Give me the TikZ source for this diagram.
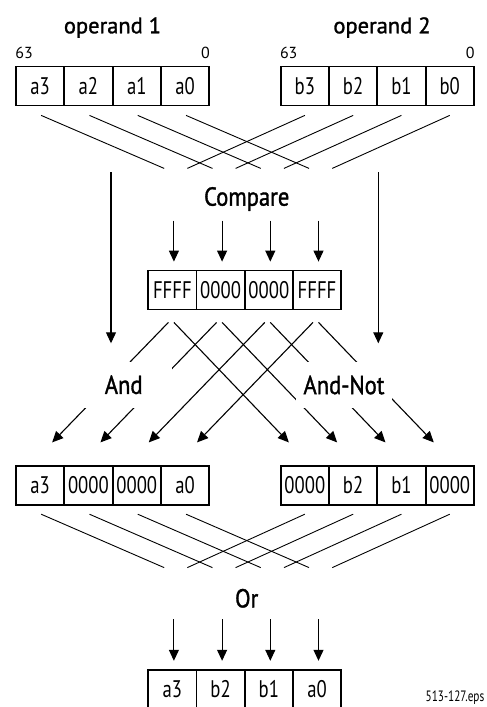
\documentclass[tikz,border=0pt]{standalone}
\usepackage{fontspec}
\setmainfont{PT Sans}
\newfontfamily\cellfont{PT Sans}[FakeStretch=0.78]
\newfontfamily\gatefont{PT Sans}[FakeStretch=0.87, FakeBold=1.3]
\newfontfamily\opfont{PT Sans}[FakeBold=1.3]
\newfontfamily\epsfont{PT Sans}[FakeStretch=0.75]
\usetikzlibrary{arrows.meta,positioning}

\begin{document}
\begin{tikzpicture}[
  x=1pt, y=-1pt,
  cell/.style={draw, line width=1.8pt, minimum width=48.3pt, minimum height=39pt,
    inner sep=0pt, font=\cellfont\fontsize{24}{24}\selectfont},
  oplabel/.style={anchor=base, inner sep=0pt, font=\opfont\fontsize{22.5}{22.5}\selectfont},
  gatelabel/.style={inner sep=0pt, font=\gatefont\fontsize{26}{26}\selectfont},
  gate/.style={gatelabel, fill=white, minimum width=96pt, minimum height=46pt},
  bitlabel/.style={inner sep=0pt, font=\fontsize{16}{16}\selectfont},
  wire/.style={line width=0.9pt},
  arr/.style={line width=1.1pt, -{Triangle[width=10pt,length=11pt]}}
]
  \useasboundingbox (0,0) rectangle (487,707);

  % operands
  \foreach \t [count=\i] in {a3,a2,a1,a0}
    \node[cell] (p\i) at ({16+48.3*(\i-0.5)},86) {\t};
  \foreach \t [count=\i] in {b3,b2,b1,b0}
    \node[cell] (q\i) at ({280.7+48.3*(\i-0.5)},86) {\t};
  \node[oplabel] (op1) at (112.5,33.3) {operand 1};
  \node[oplabel] (op2) at (382,33.3) {operand 2};
  \node[bitlabel, anchor=base west] (p63) at ([yshift=7pt]p1.north west) {63};
  \node[bitlabel, anchor=base east] (p0) at ([yshift=7pt]p4.north east) {0};
  \node[bitlabel, anchor=base west] (q63) at ([yshift=7pt]q1.north west) {63};
  \node[bitlabel, anchor=base east] (q0) at ([yshift=7pt]q4.north east) {0};

  \foreach \i in {1,...,4} {
    \draw[wire] ([shift={(1,9)}]p\i.south) -- ++(123,53);
    \draw[wire] ([shift={(0,9)}]q\i.south) -- ++(-117.5,53);
  }

  % straight through
  \coordinate (lsrc) at (111,172);
  \coordinate (rsrc) at (378.3,172);
  \draw[arr] (lsrc) -- ++(0,171.3);
  \draw[arr] (rsrc) -- ++(0,171.3);

  % compare
  \node[gatelabel] (cmp) at (246.7,199) {Compare};
  \foreach \t [count=\i] in {FFFF,0000,0000,FFFF}
    \node[cell] (c\i) at ({148.3+48.2*(\i-0.5)},290) {\t};
  \foreach \i in {1,...,4}
    \draw[arr] ([shift={(1.5,-49)}]c\i.north) -- ([shift={(1.5,-8)}]c\i.north);

  % masked results
  \foreach \t [count=\i] in {a3,0000,0000,a0}
    \node[cell] (d\i) at ({16+48.3*(\i-0.5)},485.5) {\t};
  \foreach \t [count=\i] in {0000,b2,b1,0000}
    \node[cell] (e\i) at ({280.7+48.3*(\i-0.5)},485.5) {\t};
  \foreach \i in {1,...,4} {
    \draw[arr] ([shift={(-4,12)}]c\i.south) -- ([shift={(12,-22.7)}]d\i.north);
    \draw[arr] ([shift={(1.5,12)}]c\i.south) -- ([shift={(-16,-22.7)}]e\i.north);
  }
  \node[gate] (and) at (123.7,384.8) {And};
  \node[gate] (andnot) at (344,385) {And-Not};

  \foreach \i in {1,...,4} {
    \draw[wire] ([shift={(1,8.3)}]d\i.south) -- ++(123,53.4);
    \draw[wire] ([shift={(0,8.3)}]e\i.south) -- ++(-117.5,53.4);
  }

  % or
  \node[gatelabel] (or) at (246.7,598.3) {Or};
  \foreach \t [count=\i] in {a3,b2,b1,a0}
    \node[cell] (r\i) at ({148.3+48.2*(\i-0.5)},689.5) {\t};
  \foreach \i in {1,...,4}
    \draw[arr] ([shift={(1.5,-50)}]r\i.north) -- ([shift={(1.5,-8.3)}]r\i.north);

  \node[inner sep=0pt, font=\epsfont\fontsize{15}{15}\selectfont] (eps) at (455,698) {513-127.eps};
\end{tikzpicture}
\end{document}
